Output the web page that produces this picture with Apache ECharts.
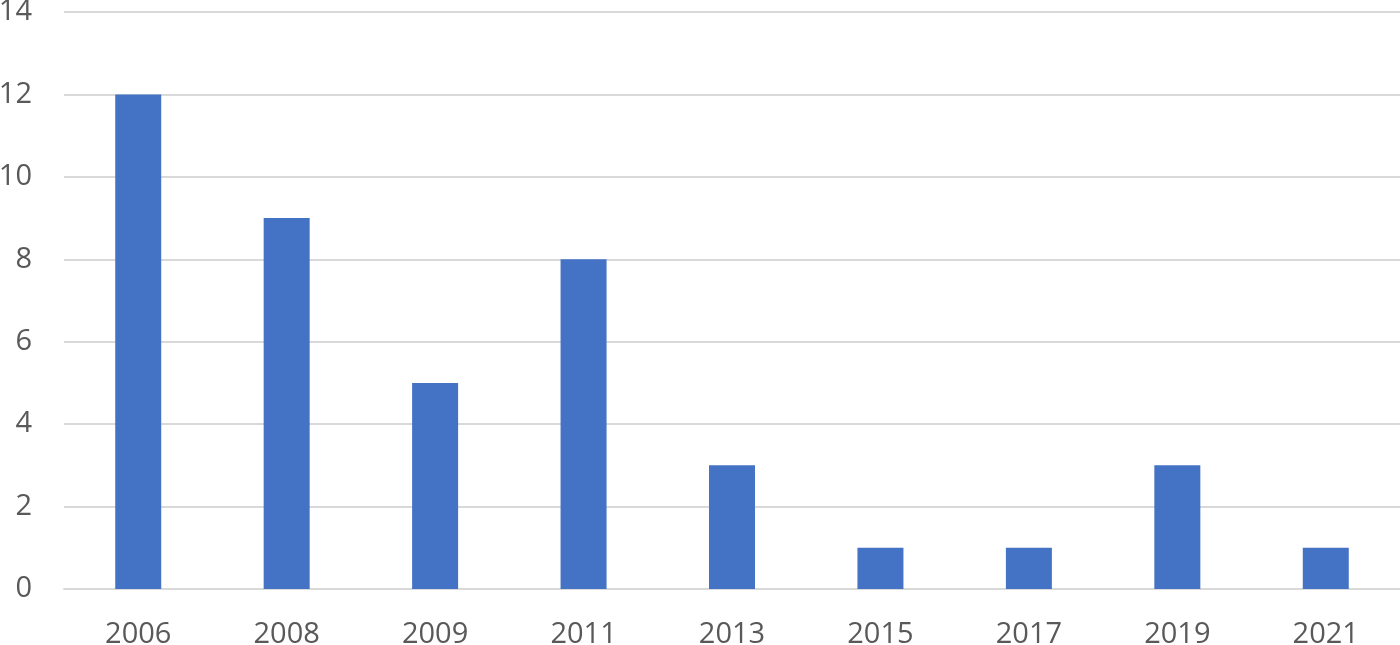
<!DOCTYPE html>
<html>
<head>
<meta charset="utf-8">
<script src="https://cdn.jsdelivr.net/npm/echarts@6/dist/echarts.min.js"></script>
<style>
  html, body { margin: 0; padding: 0; background: #fff; }
  #chart { width: 1400px; height: 645px; }
</style>
</head>
<body>
<div id="chart"></div>
<script>
const years = ['2006', '2008', '2009', '2011', '2013', '2015', '2017', '2019', '2021'];
const counts = [12, 9, 5, 8, 3, 1, 1, 3, 1];

const labelColor = '#595959';
const gridColor = '#d9d9d9';
const barColor = '#4472c4';
const fontFamily = '"Open Sans", sans-serif';

const chart = echarts.init(document.getElementById('chart'));
chart.setOption({
  animation: false,
  grid: { left: 64, right: 0, top: 12, bottom: 56, outerBoundsMode: 'none', containLabel: false },
  xAxis: {
    type: 'category',
    data: years,
    axisLine: { show: true, lineStyle: { color: gridColor, width: 2 } },
    axisTick: { show: false },
    axisLabel: { color: labelColor, fontSize: 29, fontFamily: fontFamily, margin: 31 }
  },
  yAxis: {
    type: 'value',
    min: 0,
    max: 14,
    interval: 2,
    axisLine: { show: false },
    axisTick: { show: false },
    axisLabel: { color: labelColor, fontSize: 29, fontFamily: fontFamily, margin: 32 },
    splitLine: { lineStyle: { color: gridColor, width: 2 } }
  },
  series: [{
    type: 'bar',
    data: counts,
    barWidth: 46,
    itemStyle: { color: barColor }
  }]
});
</script>
</body>
</html>
